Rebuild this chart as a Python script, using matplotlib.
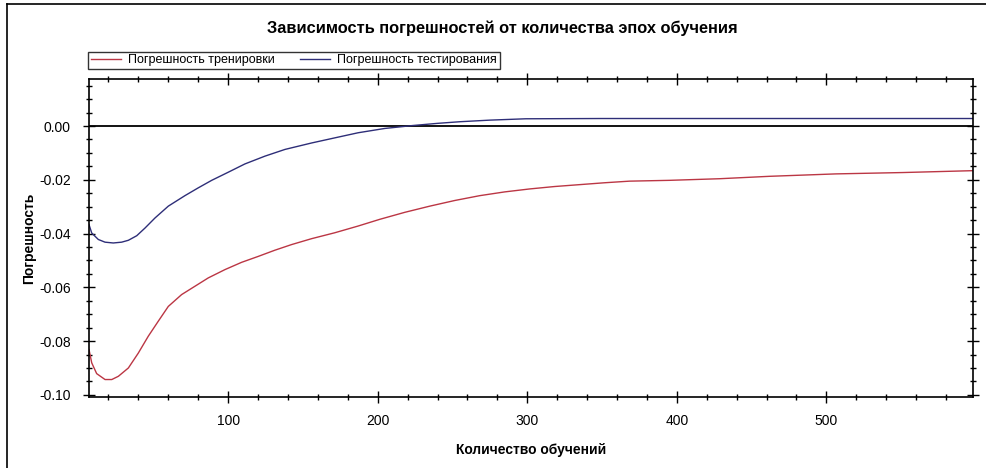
import numpy as np
import matplotlib
matplotlib.use("Agg")
import matplotlib.pyplot as plt
from matplotlib.ticker import MultipleLocator, FuncFormatter
from matplotlib.lines import Line2D

plt.rcParams['font.family'] = ['Liberation Sans', 'DejaVu Sans']

# ---------- данные ----------
train_epochs = [7, 8.8, 12.1, 17.7, 22.2, 26.6, 33.3, 39.9, 46.6, 53.3, 60, 68.9,
                77.8, 86.7, 97.9, 109, 120.1, 131.2, 142.4, 155.8, 171.3, 186.9,
                201.4, 218.1, 234.8, 251.5, 268.2, 284.9, 301.6, 318.3, 335,
                351.7, 368.4, 395, 428.5, 462, 506.5, 551, 598]
train_error = [-0.0832, -0.0881, -0.0921, -0.0943, -0.0943, -0.0931, -0.0900,
               -0.0845, -0.0782, -0.0726, -0.0671, -0.0627, -0.0596, -0.0565,
               -0.0534, -0.0507, -0.0485, -0.0462, -0.0441, -0.0419, -0.0397,
               -0.0372, -0.0347, -0.0321, -0.0298, -0.0277, -0.0259, -0.0245,
               -0.0234, -0.0225, -0.0218, -0.0211, -0.0205, -0.0202, -0.0196,
               -0.0187, -0.0178, -0.0173, -0.0166]

test_epochs = [7, 8.8, 13.2, 17.7, 23.2, 28.8, 33.3, 38.9, 44.5, 51.1, 60, 71.1,
               80, 89, 100, 111.2, 124.6, 138, 155.8, 171.3, 186.9, 204.7, 223.6,
               240, 254.8, 275, 299, 350, 450, 598]
test_error = [-0.0367, -0.0398, -0.0422, -0.0432, -0.0435, -0.0432, -0.0425,
              -0.0408, -0.0379, -0.0342, -0.0298, -0.0259, -0.0230, -0.0202,
              -0.0172, -0.0141, -0.0112, -0.0087, -0.0063, -0.0044, -0.0025,
              -0.0009, 0.0002, 0.0010, 0.0016, 0.0022, 0.0027, 0.0028, 0.0028,
              0.0028]

title = "Зависимость погрешностей от количества эпох обучения"
label_train = "Погрешность тренировки"
label_test = "Погрешность тестирования"

red = "#bb3644"
blue = "#2e2e78"

fig = plt.figure(figsize=(9.86, 4.68), dpi=100)
ax = fig.add_axes([0.0903, 0.1517, 0.8965, 0.6795])

ax.axhline(0, color="black", lw=1.3, zorder=1)
ax.plot(train_epochs, train_error, color=red, lw=1.0, zorder=2)
ax.plot(test_epochs, test_error, color=blue, lw=1.0, zorder=2)

ax.set_xlim(7, 598)
ax.set_ylim(-0.1008, 0.0175)

ax.xaxis.set_major_locator(MultipleLocator(100))
ax.xaxis.set_minor_locator(MultipleLocator(20))
ax.yaxis.set_major_locator(MultipleLocator(0.02))
ax.yaxis.set_minor_locator(MultipleLocator(0.005))
ax.yaxis.set_major_formatter(FuncFormatter(lambda v, p: f"{v + 0.0:.2f}".replace("-0.00", "0.00")))

ax.tick_params(which="both", direction="inout", top=True, right=True,
               labelsize=10, width=1)
ax.tick_params(axis="x", pad=8)
ax.tick_params(axis="y", pad=9)
ax.tick_params(which="major", length=8)
ax.tick_params(which="minor", length=5)
for s in ax.spines.values():
    s.set_linewidth(1.2)

ax.set_xlabel("Количество обучений", fontsize=10, fontweight="bold", labelpad=11)
ax.set_ylabel("Погрешность", fontsize=10, fontweight="bold", labelpad=2)

fig.text(0.509, 0.940, title, ha="center", va="center",
         fontsize=11.8, fontweight="bold")

handles = [Line2D([], [], color=red, lw=1.0), Line2D([], [], color=blue, lw=1.0)]
leg = fig.legend(handles, [label_train, label_test], loc="upper left",
                 bbox_to_anchor=(0.0893, 0.889), ncol=2, fontsize=9,
                 frameon=True, fancybox=False, borderpad=0.2,
                 handlelength=2.4, handletextpad=0.6, columnspacing=2.0,
                 borderaxespad=0)
leg.get_frame().set_edgecolor("black")
leg.get_frame().set_linewidth(1.0)

# рамка слева и сверху
fig.add_artist(Line2D([7 / 986, 7 / 986], [0, 1 - 4 / 468], color="black", lw=1.2,
                      transform=fig.transFigure))
fig.add_artist(Line2D([7 / 986, 1], [1 - 4 / 468, 1 - 4 / 468], color="black", lw=1.2,
                      transform=fig.transFigure))

fig.savefig("out.png", dpi=100)
